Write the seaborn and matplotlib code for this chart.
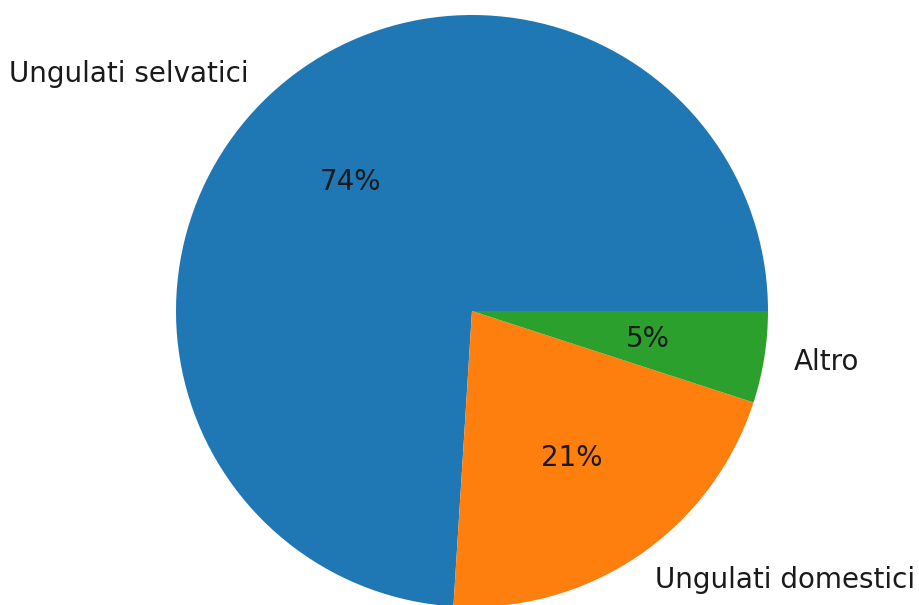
import matplotlib
matplotlib.use("Agg")
import matplotlib.pyplot as plt
import seaborn as sns

# Share of cases by host group
categories = ["Ungulati selvatici", "Ungulati domestici", "Altro"]
shares = [74, 21, 5]

sns.set_style("white")
plt.rcParams["font.family"] = ["DejaVu Sans"]
colors = sns.color_palette("tab10", 3)

fig = plt.figure(figsize=(9.2, 6.05), dpi=100)
ax = fig.add_axes([0, 0, 1, 1])

ax.pie(
    shares,
    labels=categories,
    colors=colors,
    autopct="%1.0f%%",
    startangle=0,
    wedgeprops={"linewidth": 0},
    textprops={"fontsize": 20, "color": "#1a1a1a"},
)

# pie centre at about (472, 311) px, radius about 296 px
r_px = 296
cx, cy = 472, 311
ax.set_aspect("auto")
ax.set_xlim(-cx / r_px, (920 - cx) / r_px)
ax.set_ylim(-(605 - cy) / r_px, cy / r_px)
ax.axis("off")

fig.savefig("out.png", dpi=100)
